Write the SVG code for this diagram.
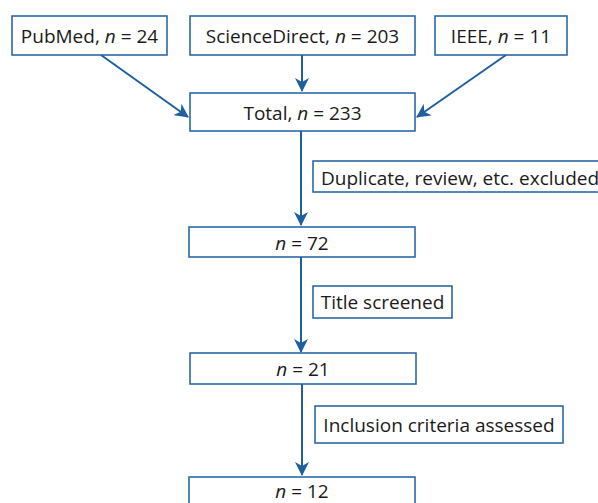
<svg xmlns="http://www.w3.org/2000/svg" width="598" height="503" viewBox="0 0 598 503">
<style>
.box{fill:#fff;stroke:#1f5fa0;stroke-width:1.5}
.t{font-family:"Open Sans","Noto Sans",sans-serif;font-size:19px;fill:#1a1a1a}
.c{stroke:#1f5fa0;stroke-width:2;fill:none;marker-end:url(#ah)}
</style>
<defs>
<marker id="ah" markerWidth="14" markerHeight="14" viewBox="0 0 14 14" refX="13" refY="7" orient="auto" markerUnits="userSpaceOnUse">
<path d="M0,0 L14,7 L0,14 L4,7 Z" fill="#1f5fa0"/>
</marker>
</defs>
<rect width="598" height="503" fill="#fff"/>
<g id="connectors">
<line class="c" x1="101" y1="55" x2="188" y2="117"/>
<line class="c" x1="302" y1="55" x2="302" y2="91"/>
<line class="c" x1="506" y1="55" x2="417" y2="117"/>
<line class="c" x1="301" y1="131" x2="301" y2="225"/>
<line class="c" x1="301" y1="257" x2="301" y2="352"/>
<line class="c" x1="302" y1="384" x2="302" y2="475"/>
</g>
<g id="pubmed"><rect class="box" x="12" y="16" width="155" height="39"/><text class="t" x="89.5" y="43" text-anchor="middle">PubMed, <tspan font-style="italic">n</tspan> = 24</text></g>
<g id="sciencedirect"><rect class="box" x="190" y="16" width="225" height="39"/><text class="t" x="302.5" y="43" text-anchor="middle">ScienceDirect, <tspan font-style="italic">n</tspan> = 203</text></g>
<g id="ieee"><rect class="box" x="435" y="16" width="132" height="39"/><text class="t" x="501" y="43" text-anchor="middle">IEEE, <tspan font-style="italic">n</tspan> = 11</text></g>
<g id="total"><rect class="box" x="190" y="93" width="225" height="38"/><text class="t" x="302.5" y="120" text-anchor="middle">Total, <tspan font-style="italic">n</tspan> = 233</text></g>
<g id="duplicate"><rect class="box" x="313" y="161" width="300" height="31"/><text class="t" x="321" y="185">Duplicate, review, etc. excluded</text></g>
<g id="n72"><rect class="box" x="189" y="227" width="226" height="30"/><text class="t" x="302" y="250" text-anchor="middle"><tspan font-style="italic">n</tspan> = 72</text></g>
<g id="title"><rect class="box" x="313" y="286" width="139" height="32"/><text class="t" x="382.5" y="309" text-anchor="middle">Title screened</text></g>
<g id="n21"><rect class="box" x="190" y="353" width="226" height="31"/><text class="t" x="303" y="376" text-anchor="middle"><tspan font-style="italic">n</tspan> = 21</text></g>
<g id="inclusion"><rect class="box" x="315" y="406" width="248" height="37"/><text class="t" x="439" y="432" text-anchor="middle">Inclusion criteria assessed</text></g>
<g id="n12"><rect class="box" x="189" y="477" width="226" height="40"/><text class="t" x="302" y="498" text-anchor="middle"><tspan font-style="italic">n</tspan> = 12</text></g>
</svg>
